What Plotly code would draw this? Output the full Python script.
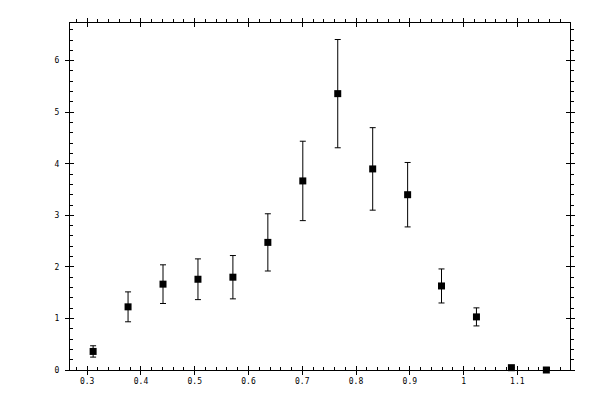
import plotly.graph_objects as go

x_vals = [0.311, 0.376, 0.441, 0.506, 0.571, 0.636, 0.701,
          0.766, 0.831, 0.896, 0.959, 1.024, 1.089, 1.154]
y_vals = [0.36, 1.225, 1.665, 1.76, 1.80, 2.475, 3.667,
          5.36, 3.90, 3.40, 1.63, 1.03, 0.045, 0.0]
y_err = [0.11, 0.29, 0.375, 0.395, 0.42, 0.555, 0.77,
         1.05, 0.80, 0.625, 0.33, 0.175, 0.0, 0.0]

x_range = [0.268, 1.198]
y_range = [0, 6.73]

fig = go.Figure()

fig.add_trace(go.Scatter(
    x=x_vals, y=y_vals,
    mode="markers",
    marker=dict(symbol="square", size=7, color="black", line=dict(width=0)),
    error_y=dict(type="data", array=y_err, visible=True,
                 color="black", thickness=1, width=3),
    cliponaxis=False,
    showlegend=False,
))

# empty traces so the extra tick axes get drawn
for i in (2, 3, 4):
    fig.add_trace(go.Scatter(x=[None], y=[None], xaxis="x%d" % i, yaxis="y%d" % i,
                             showlegend=False, hoverinfo="skip"))

fnt = dict(family="DejaVu Sans Mono", size=8, color="black")

def xax(side, ticks, labels, minor, **kw):
    d = dict(range=x_range, dtick=0.1, tick0=0, ticks=ticks, ticklen=4,
             tickcolor="black", tickwidth=1, showgrid=False, zeroline=False,
             showline=True, linecolor="black", linewidth=1, side=side,
             showticklabels=labels, tickfont=fnt, fixedrange=True)
    if minor:
        d["minor"] = dict(dtick=0.02, tick0=0, ticks=ticks, ticklen=3,
                          tickcolor="black", tickwidth=1, showgrid=False)
    d.update(kw)
    return d

def yax(side, ticks, labels, minor, **kw):
    d = dict(range=y_range, dtick=1, tick0=0, ticks=ticks, ticklen=4,
             tickcolor="black", tickwidth=1, showgrid=False, zeroline=False,
             showline=True, linecolor="black", linewidth=1, side=side,
             showticklabels=labels, tickfont=fnt, fixedrange=True)
    if minor:
        d["minor"] = dict(dtick=0.2, tick0=0, ticks=ticks, ticklen=3,
                          tickcolor="black", tickwidth=1, showgrid=False)
    d.update(kw)
    return d

# page body adds 8px, so shrink the figure to keep the frame where it belongs
fig.update_layout(
    width=592, height=392,
    margin=dict(l=62, r=30, t=11, b=30),
    paper_bgcolor="white", plot_bgcolor="white",
    xaxis=xax("bottom", "inside", True, True, ticklabelstandoff=3),
    yaxis=yax("left", "inside", True, True, ticklabelstandoff=8),
    xaxis2=xax("top", "outside", False, True, overlaying="x", anchor="y2"),
    yaxis2=yax("right", "outside", False, True, overlaying="y", anchor="x2"),
    xaxis3=xax("bottom", "outside", False, False, overlaying="x", anchor="y3"),
    yaxis3=yax("left", "outside", False, False, overlaying="y", anchor="x3"),
    xaxis4=xax("top", "inside", False, False, overlaying="x", anchor="y4"),
    yaxis4=yax("right", "inside", False, False, overlaying="y", anchor="x4"),
)

fig.write_html("out.html")
